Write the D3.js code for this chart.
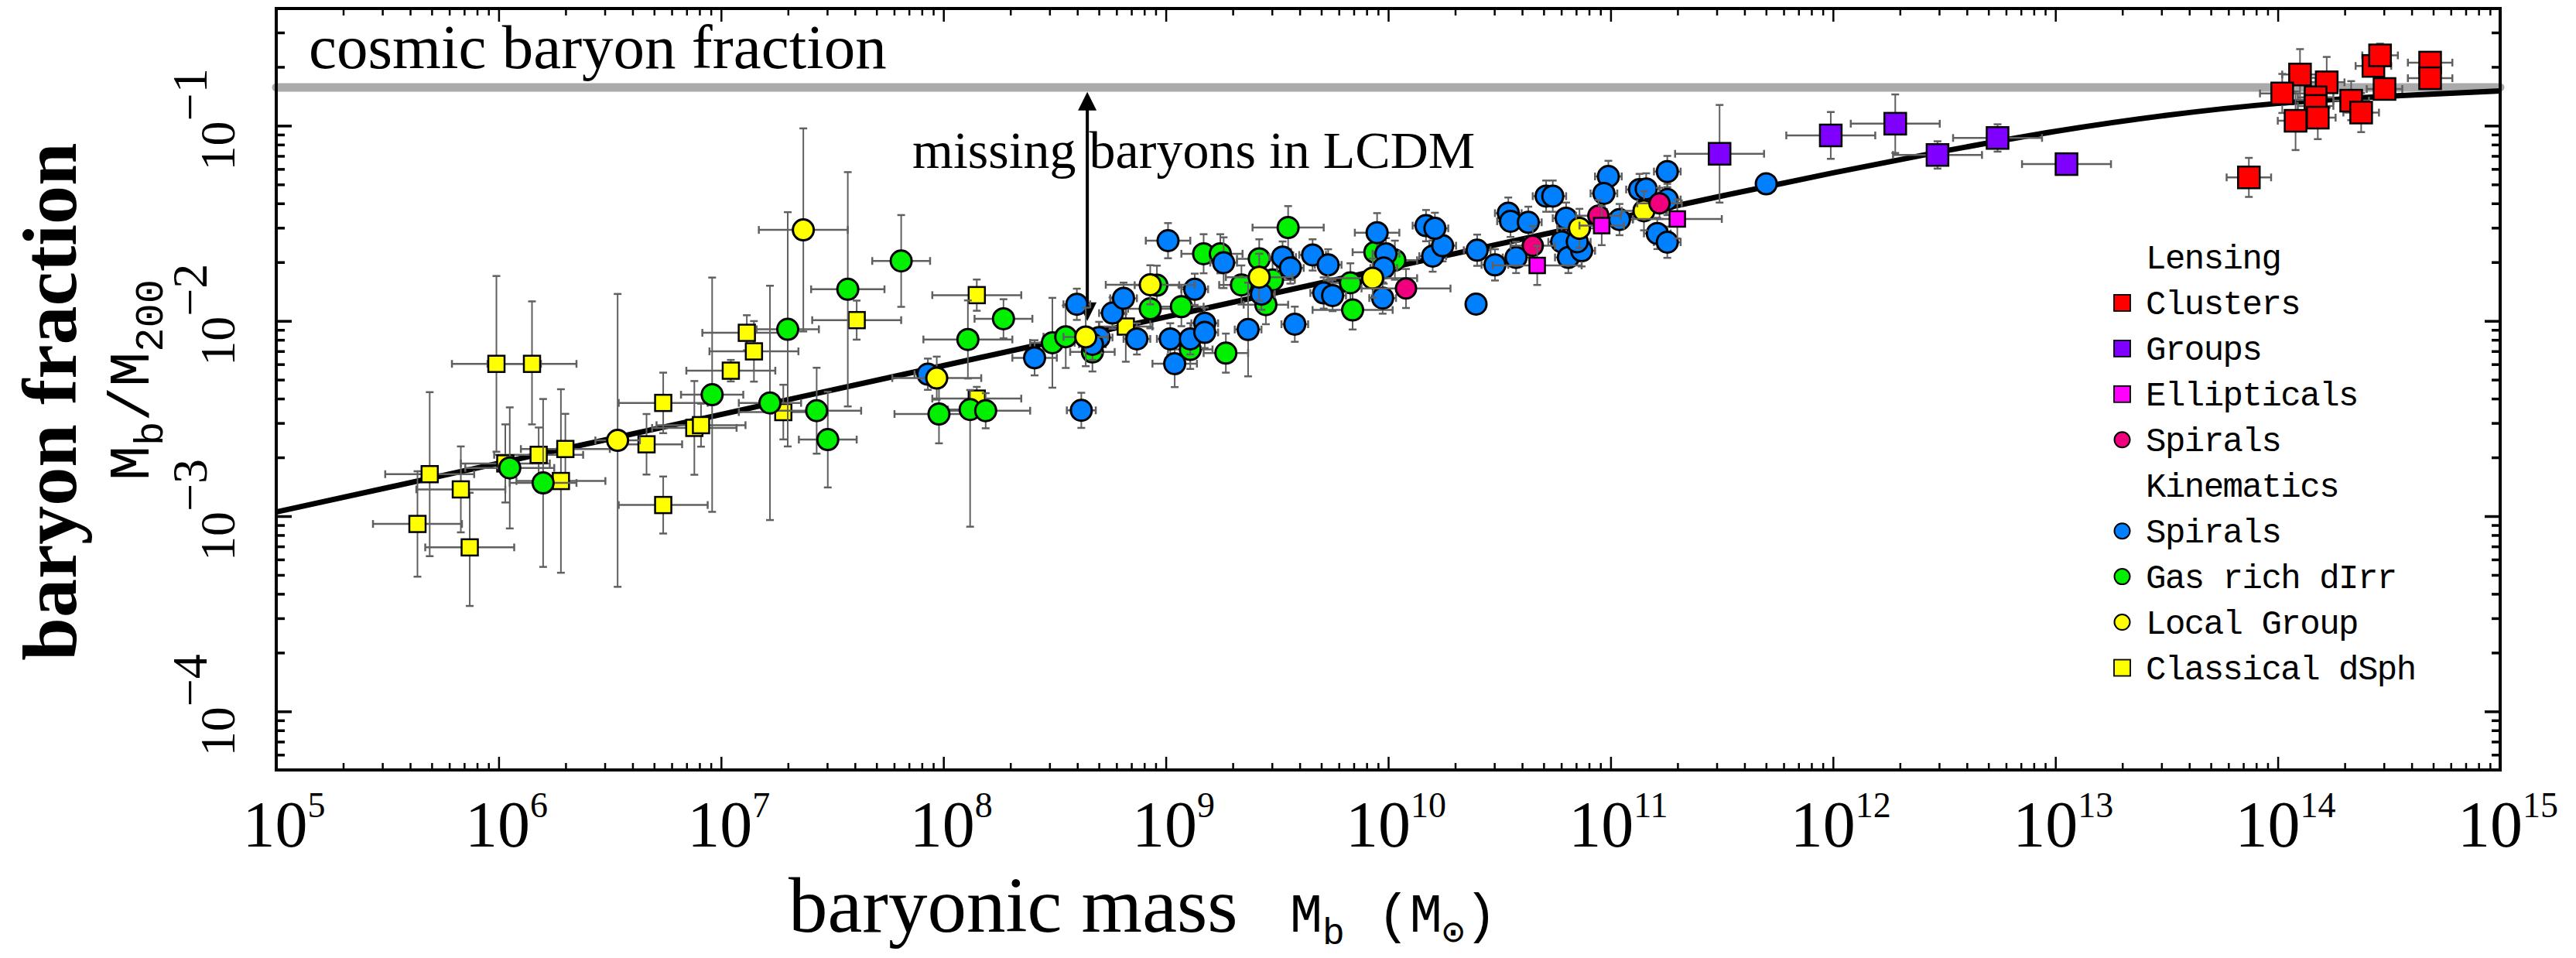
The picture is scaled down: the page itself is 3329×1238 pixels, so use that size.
<!DOCTYPE html>
<html>
<head>
<meta charset="utf-8">
<script src="https://cdn.jsdelivr.net/npm/d3@7"></script>
<style>
body { margin: 0; background: #fff; }
svg { display: block; }
</style>
</head>
<body>
<svg id="chart" width="3329" height="1238"></svg>
<script>
// values
// each row: [log10 Mb, log10 fb, dex error in Mb, dex error in fb below, dex error in fb above]
var clusters = [
	[13.87, -1.265, 0.10, 0.10, 0.10],
	[14.10, -0.738, 0.08, 0.13, 0.13],
	[14.02, -0.835, 0.10, 0.10, 0.10],
	[14.22, -0.778, 0.08, 0.13, 0.13],
	[14.17, -0.855, 0.08, 0.10, 0.10],
	[14.17, -0.899, 0.08, 0.10, 0.10],
	[14.18, -0.959, 0.08, 0.11, 0.11],
	[14.08, -0.975, 0.08, 0.15, 0.15],
	[14.33, -0.872, 0.08, 0.10, 0.10],
	[14.375, -0.933, 0.08, 0.10, 0.10],
	[14.48, -0.812, 0.08, 0.05, 0.05],
	[14.43, -0.694, 0.08, 0.05, 0.05],
	[14.46, -0.640, 0.08, 0.06, 0.06],
	[14.685, -0.677, 0.10, 0.05, 0.05],
	[14.685, -0.757, 0.10, 0.05, 0.05]
];
var groups = [
	[11.49, -1.144, 0.20, 0.25, 0.25],
	[11.99, -1.050, 0.20, 0.12, 0.12],
	[12.28, -0.990, 0.20, 0.15, 0.15],
	[12.47, -1.150, 0.20, 0.07, 0.07],
	[12.74, -1.063, 0.20, 0.07, 0.07],
	[13.05, -1.197, 0.20, 0.03, 0.03]
];
var ellipticals = [
	[10.67, -1.716, 0.20, 0.10, 0.10],
	[10.96, -1.512, 0.10, 0.10, 0.10],
	[11.30, -1.478, 0.20, 0.10, 0.10]
];
var lensSpirals = [
	[10.08, -1.834, 0.20, 0.10, 0.10],
	[10.65, -1.615, 0.10, 0.10, 0.10],
	[10.945, -1.461, 0.10, 0.08, 0.08],
	[11.22, -1.398, 0.10, 0.08, 0.08]
];
var kinSpirals = [
	[7.93, -2.273, 0.06, 0.08, 0.08], [8.41, -2.189, 0.10, 0.09, 0.09],
	[8.62, -2.458, 0.065, 0.09, 0.09], [8.70, -2.085, 0.06, 0.08, 0.08],
	[8.67, -2.120, 0.06, 0.08, 0.08], [8.60, -1.915, 0.06, 0.08, 0.08],
	[8.76, -1.960, 0.06, 0.08, 0.08], [8.81, -1.884, 0.06, 0.08, 0.08],
	[8.87, -2.092, 0.06, 0.08, 0.08], [9.01, -1.589, 0.10, 0.09, 0.09],
	[9.13, -1.838, 0.06, 0.08, 0.08], [9.02, -2.092, 0.06, 0.08, 0.08],
	[9.11, -2.092, 0.06, 0.08, 0.08], [9.04, -2.219, 0.10, 0.12, 0.12],
	[9.175, -2.012, 0.06, 0.08, 0.08], [9.175, -2.059, 0.06, 0.08, 0.08],
	[9.26, -1.702, 0.06, 0.13, 0.13], [9.43, -1.863, 0.06, 0.08, 0.08],
	[9.525, -1.673, 0.06, 0.08, 0.08], [9.56, -1.729, 0.06, 0.08, 0.08],
	[9.66, -1.662, 0.06, 0.08, 0.08], [9.73, -1.713, 0.06, 0.08, 0.08],
	[9.71, -1.857, 0.06, 0.08, 0.08], [9.75, -1.870, 0.06, 0.08, 0.08],
	[9.58, -2.017, 0.06, 0.09, 0.09], [9.37, -2.044, 0.06, 0.24, 0.24],
	[9.95, -1.548, 0.10, 0.10, 0.10], [9.99, -1.656, 0.06, 0.08, 0.08],
	[9.98, -1.729, 0.06, 0.08, 0.08], [9.975, -1.883, 0.06, 0.08, 0.08],
	[10.20, -1.668, 0.06, 0.08, 0.08], [10.245, -1.615, 0.06, 0.08, 0.08],
	[10.17, -1.512, 0.06, 0.08, 0.08], [10.21, -1.526, 0.06, 0.08, 0.08],
	[10.40, -1.638, 0.06, 0.08, 0.08], [10.395, -1.914, 0, 0, 0],
	[10.54, -1.448, 0.06, 0.08, 0.08], [10.55, -1.490, 0.06, 0.08, 0.08],
	[10.63, -1.495, 0.06, 0.08, 0.08], [10.48, -1.713, 0.06, 0.08, 0.08],
	[10.575, -1.675, 0.06, 0.08, 0.08], [10.71, -1.361, 0.06, 0.08, 0.08],
	[10.74, -1.361, 0.06, 0.08, 0.08], [10.80, -1.474, 0.06, 0.08, 0.08],
	[10.78, -1.595, 0.06, 0.08, 0.08], [10.81, -1.675, 0.06, 0.08, 0.08],
	[10.87, -1.641, 0.06, 0.08, 0.08], [10.85, -1.595, 0.06, 0.08, 0.08],
	[10.99, -1.260, 0.06, 0.08, 0.08], [10.97, -1.347, 0.06, 0.08, 0.08],
	[11.04, -1.481, 0.06, 0.08, 0.08], [11.13, -1.327, 0.06, 0.08, 0.08],
	[11.255, -1.235, 0.06, 0.08, 0.08], [11.16, -1.324, 0.06, 0.08, 0.08],
	[11.255, -1.378, 0.06, 0.08, 0.08], [11.21, -1.552, 0.06, 0.08, 0.08],
	[11.255, -1.597, 0.06, 0.08, 0.08], [11.70, -1.298, 0, 0, 0]
];
var gasRich = [
	[6.05, -2.753, 0.20, 0.31, 0.31], [6.20, -2.830, 0.15, 0.43, 0.43],
	[6.96, -2.378, 0.14, 0.60, 0.60], [7.22, -2.420, 0.14, 0.60, 0.60],
	[7.30, -2.043, 0.14, 0.60, 0.60], [7.57, -1.838, 0.165, 0.60, 0.60],
	[7.81, -1.693, 0.13, 0.235, 0.235], [7.43, -2.460, 0.20, 0.22, 0.22],
	[7.48, -2.608, 0.13, 0.245, 0.245], [8.27, -1.989, 0.13, 0.10, 0.10],
	[8.11, -2.095, 0.20, 0.20, 0.20], [7.98, -2.477, 0.20, 0.15, 0.15],
	[8.12, -2.454, 0.10, 0.60, 0.10], [8.19, -2.460, 0.20, 0.09, 0.09],
	[8.49, -2.112, 0.10, 0.23, 0.23], [8.55, -2.081, 0.10, 0.16, 0.16],
	[8.67, -2.159, 0.10, 0.10, 0.10], [8.96, -1.817, 0.10, 0.10, 0.10],
	[8.93, -1.938, 0.10, 0.10, 0.10], [9.17, -1.656, 0.10, 0.10, 0.10],
	[9.07, -1.927, 0.10, 0.10, 0.10], [9.11, -2.146, 0.10, 0.10, 0.10],
	[9.55, -1.522, 0.16, 0.11, 0.11], [9.245, -1.656, 0.10, 0.10, 0.10],
	[9.42, -1.682, 0.10, 0.10, 0.10], [9.34, -1.816, 0.10, 0.10, 0.10],
	[9.48, -1.790, 0.10, 0.10, 0.10], [9.45, -1.917, 0.10, 0.10, 0.10],
	[9.27, -2.165, 0.10, 0.10, 0.10], [9.83, -1.805, 0.10, 0.10, 0.10],
	[9.84, -1.944, 0.18, 0.10, 0.10], [9.94, -1.648, 0.10, 0.10, 0.10],
	[10.03, -1.689, 0.10, 0.10, 0.10]
];
var localGroup = [
	[6.535, -2.612, 0.10, 0.75, 0.75], [7.37, -1.534, 0.20, 0.52, 0.52],
	[7.97, -2.293, 0.20, 0.11, 0.11], [8.64, -2.082, 0.10, 0.15, 0.15],
	[8.93, -1.815, 0.20, 0.10, 0.10], [9.42, -1.776, 0.15, 0.12, 0.12],
	[9.93, -1.781, 0.20, 0.10, 0.10], [10.86, -1.526, 0.10, 0.10, 0.10],
	[11.15, -1.436, 0.10, 0.10, 0.10]
];
var dSph = [
	[5.99, -2.220, 0.20, 0.45, 0.45], [6.15, -2.220, 0.20, 0.31, 0.32],
	[5.69, -2.785, 0.20, 0.42, 0.42], [5.83, -2.863, 0.20, 0.22, 0.22],
	[5.635, -3.040, 0.20, 0.27, 0.27], [5.87, -3.160, 0.20, 0.30, 0.28],
	[6.03, -2.730, 0.20, 0.20, 0.20], [6.18, -2.686, 0.20, 0.14, 0.14],
	[6.30, -2.656, 0.20, 0.18, 0.18], [6.28, -2.820, 0.20, 0.47, 0.47],
	[6.665, -2.632, 0.16, 0.155, 0.155], [6.74, -2.420, 0.20, 0.155, 0.155],
	[6.74, -2.943, 0.20, 0.146, 0.146], [6.88, -2.548, 0.19, 0.24, 0.24],
	[6.91, -2.534, 0.20, 0.11, 0.11], [7.116, -2.061, 0.20, 0.09, 0.09],
	[7.148, -2.156, 0.20, 0.155, 0.155], [7.044, -2.255, 0.20, 0.055, 0.055],
	[7.61, -1.996, 0.20, 0.10, 0.10], [7.28, -2.467, 0.20, 0.14, 0.14],
	[8.15, -1.868, 0.20, 0.08, 0.08], [8.15, -2.398, 0.20, 0.06, 0.06],
	[8.82, -2.029, 0.12, 0.18, 0.18]
];

// black model curve, read at these masses
var modelLogM = [5, 6, 7, 8, 9, 10, 11, 11.5, 12, 12.5, 13, 13.5, 14, 14.5, 15];
var modelLogF = [-2.979, -2.729, -2.479, -2.229, -1.98, -1.73, -1.482, -1.36, -1.242, -1.13, -1.029, -0.947, -0.886, -0.849, -0.822];

var cosmicFb = 0.157;
var arrowLogM = 8.647;
var arrowLogF = [-0.803, -2.0];

var xTickExp = [5, 6, 7, 8, 9, 10, 11, 12, 13, 14, 15];
var yTickExp = [-1, -2, -3, -4];

var width = 3329, height = 1238;
var L = 357, R = 3231, T = 11, B = 995;

var svg = d3.select('#chart');

var x = d3.scaleLog().domain([1e5, 1e15]).range([L, R]);
var y = d3.scaleLog().domain([Math.pow(10, -4.3), Math.pow(10, -0.4)]).range([B, T]);

function p10(v) { return Math.pow(10, v); }

var serif = '"Liberation Serif", "Times New Roman", serif';
var mono = '"Liberation Mono", "DejaVu Sans Mono", monospace';

// ticks
var xMajor = xTickExp.map(p10);
var xMinor = [];
for (var e = 5; e < 15; e++) for (var k = 2; k <= 9; k++) xMinor.push(k * p10(e));
var yMajor = yTickExp.map(p10);
var yMinor = [];
for (var e = -5; e <= -1; e++) for (var k = 2; k <= 9; k++) {
	var v = k * p10(e);
	if (v > y.domain()[0] && v < y.domain()[1]) yMinor.push(v);
}

function axisGroup(axis, tx, ty, w) {
	var g = svg.append('g').attr('transform', 'translate(' + tx + ',' + ty + ')').call(axis);
	g.select('.domain').remove();
	g.selectAll('.tick line').attr('stroke', '#000').attr('stroke-width', w);
	g.selectAll('.tick text').remove();
	return g;
}
axisGroup(d3.axisBottom(x).tickValues(xMajor).tickSize(-17), 0, B, 2.5);
axisGroup(d3.axisBottom(x).tickValues(xMinor).tickSize(-9), 0, B, 2.5);
axisGroup(d3.axisTop(x).tickValues(xMajor).tickSize(-17), 0, T, 2.5);
axisGroup(d3.axisTop(x).tickValues(xMinor).tickSize(-9), 0, T, 2.5);
axisGroup(d3.axisLeft(y).tickValues(yMajor).tickSize(-20), L, 0, 3.5);
axisGroup(d3.axisLeft(y).tickValues(yMinor).tickSize(-11), L, 0, 3.5);
axisGroup(d3.axisRight(y).tickValues(yMajor).tickSize(-20), R, 0, 3.5);
axisGroup(d3.axisRight(y).tickValues(yMinor).tickSize(-11), R, 0, 3.5);

// cosmic baryon fraction
svg.append('line')
	.attr('x1', L).attr('x2', R)
	.attr('y1', y(cosmicFb)).attr('y2', y(cosmicFb))
	.attr('stroke', '#aaaaaa')
	.attr('stroke-width', 11)
	.attr('stroke-linecap', 'round');

svg.append('text')
	.attr('x', 399).attr('y', 88)
	.style('font-family', serif).style('font-size', '81px')
	.text('cosmic baryon fraction');

// model curve
var line = d3.line()
	.x(function(d) { return x(p10(d[0])); })
	.y(function(d) { return y(p10(d[1])); })
	.curve(d3.curveMonotoneX);
svg.append('path')
	.datum(d3.zip(modelLogM, modelLogF))
	.attr('d', line)
	.attr('fill', 'none')
	.attr('stroke', '#000')
	.attr('stroke-width', 7);

// arrow
var ax = x(p10(arrowLogM)), ay1 = y(p10(arrowLogF[0])) + 6, ay2 = y(p10(arrowLogF[1]));
svg.append('line')
	.attr('x1', ax).attr('x2', ax).attr('y1', ay1 + 20).attr('y2', ay2 - 20)
	.attr('stroke', '#000').attr('stroke-width', 4);
svg.append('path')
	.attr('d', 'M' + ax + ',' + ay1 + 'l-12,24h24z')
	.attr('fill', '#000');
svg.append('path')
	.attr('d', 'M' + ax + ',' + ay2 + 'l-12,-24h24z')
	.attr('fill', '#000');

svg.append('text')
	.attr('x', 1179).attr('y', 217)
	.style('font-family', serif).style('font-size', '68px')
	.text('missing baryons in LCDM');

// data
var series = [
	{ data: dSph, shape: 'square', fill: '#ffff00', size: 21 },
	{ data: gasRich, shape: 'circle', fill: '#00f000', size: 30 },
	{ data: kinSpirals, shape: 'circle', fill: '#0080ff', size: 30 },
	{ data: localGroup, shape: 'circle', fill: '#ffff00', size: 30 },
	{ data: lensSpirals, shape: 'circle', fill: '#f0007c', size: 29 },
	{ data: ellipticals, shape: 'square', fill: '#ff00ff', size: 20 },
	{ data: groups, shape: 'square', fill: '#7f00ff', size: 28 },
	{ data: clusters, shape: 'square', fill: '#ff0000', size: 28 }
];

var barColor = '#606060', cap = 5;

series.forEach(function(s) {
	var g = svg.append('g');
	var bars = g.append('g');
	s.data.forEach(function(d) {
		var cx = x(p10(d[0])), cy = y(p10(d[1]));
		if (d[2] > 0) {
			var x1 = x(p10(d[0] - d[2])), x2 = x(p10(d[0] + d[2]));
			bars.append('line').attr('x1', x1).attr('x2', x2).attr('y1', cy).attr('y2', cy)
				.attr('stroke', barColor).attr('stroke-width', 2.5);
			[x1, x2].forEach(function(xx) {
				bars.append('line').attr('x1', xx).attr('x2', xx).attr('y1', cy - cap).attr('y2', cy + cap)
					.attr('stroke', barColor).attr('stroke-width', 2.5);
			});
		}
		if (d[3] > 0 || d[4] > 0) {
			var y1 = y(p10(d[1] - d[3])), y2 = y(p10(d[1] + d[4]));
			bars.append('line').attr('x1', cx).attr('x2', cx).attr('y1', y1).attr('y2', y2)
				.attr('stroke', barColor).attr('stroke-width', 2);
			[y1, y2].forEach(function(yy) {
				bars.append('line').attr('x1', cx - cap).attr('x2', cx + cap).attr('y1', yy).attr('y2', yy)
					.attr('stroke', barColor).attr('stroke-width', 2.5);
			});
		}
	});
	var marks = g.append('g');
	if (s.shape === 'circle') {
		marks.selectAll('circle').data(s.data).enter().append('circle')
			.attr('cx', function(d) { return x(p10(d[0])); })
			.attr('cy', function(d) { return y(p10(d[1])); })
			.attr('r', s.size / 2 - 1.5)
			.attr('fill', s.fill)
			.attr('stroke', '#000')
			.attr('stroke-width', 3);
	} else {
		marks.selectAll('rect').data(s.data).enter().append('rect')
			.attr('x', function(d) { return x(p10(d[0])) - s.size / 2; })
			.attr('y', function(d) { return y(p10(d[1])) - s.size / 2; })
			.attr('width', s.size).attr('height', s.size)
			.attr('fill', s.fill)
			.attr('stroke', '#000')
			.attr('stroke-width', 2.5);
	}
});

// frame
svg.append('rect')
	.attr('x', L).attr('y', T).attr('width', R - L).attr('height', B - T)
	.attr('fill', 'none').attr('stroke', '#000').attr('stroke-width', 4);

// x tick labels
xTickExp.forEach(function(e) {
	var t = svg.append('text')
		.attr('x', x(p10(e)) + 10).attr('y', 1094)
		.attr('text-anchor', 'middle')
		.style('font-family', serif).style('font-size', '84px');
	t.append('tspan').text('10');
	t.append('tspan').attr('dy', -38).style('font-size', '46px').text(e);
});

// y tick labels
yTickExp.forEach(function(e) {
	var t = svg.append('text')
		.attr('transform', 'translate(303,' + (y(p10(e)) - 8) + ') rotate(-90)')
		.attr('text-anchor', 'middle')
		.style('font-family', serif).style('font-size', '64px');
	t.append('tspan').text('10');
	t.append('tspan').attr('dy', -36).text('\u2212' + Math.abs(e));
});

// axis titles
svg.append('text').attr('x', 1019).attr('y', 1204)
	.style('font-family', serif).style('font-size', '101px')
	.text('baryonic mass');
var xt = svg.append('text').attr('x', 1667).attr('y', 1204)
	.style('font-family', mono).style('font-size', '70px');
xt.append('tspan').text('M');
xt.append('tspan').style('font-size', '48px').attr('dy', 16).text('b');
xt.append('tspan').attr('dy', -16).text(' (M');
xt.append('tspan').style('font-size', '48px').attr('dy', 16).text('\u2299');
xt.append('tspan').attr('dy', -16).text(')');

svg.append('text')
	.attr('transform', 'translate(98,519) rotate(-90)')
	.attr('text-anchor', 'middle')
	.style('font-family', serif).style('font-weight', 'bold').style('font-size', '100px')
	.text('baryon fraction');

var yt = svg.append('text')
	.attr('transform', 'translate(192,491) rotate(-90)')
	.attr('text-anchor', 'middle')
	.style('font-family', mono).style('font-size', '75px');
yt.append('tspan').text('M');
yt.append('tspan').attr('dy', 18).style('font-size', '52px').text('b');
yt.append('tspan').attr('dy', -18).text('/M');
yt.append('tspan').attr('dy', 18).style('font-size', '52px').text('200');

// legend
var legendRows = [
	{ label: 'Lensing' },
	{ label: 'Clusters', shape: 'square', fill: '#ff0000' },
	{ label: 'Groups', shape: 'square', fill: '#7f00ff' },
	{ label: 'Ellipticals', shape: 'square', fill: '#ff00ff' },
	{ label: 'Spirals', shape: 'circle', fill: '#f0007c' },
	{ label: 'Kinematics' },
	{ label: 'Spirals', shape: 'circle', fill: '#0080ff' },
	{ label: 'Gas rich dIrr', shape: 'circle', fill: '#00f000' },
	{ label: 'Local Group', shape: 'circle', fill: '#ffff00' },
	{ label: 'Classical dSph', shape: 'square', fill: '#ffff00' }
];
var ly = d3.scaleLinear().domain([0, 9]).range([347, 877.5]);
var legend = svg.append('g');
legendRows.forEach(function(r, i) {
	var by = ly(i);
	legend.append('text')
		.attr('x', 2773).attr('y', by)
		.style('font-family', mono).style('font-size', '44px').style('letter-spacing', '-1.5px')
		.text(r.label);
	if (r.shape === 'square') {
		legend.append('rect')
			.attr('x', 2732).attr('y', by - 25).attr('width', 21).attr('height', 21)
			.attr('fill', r.fill).attr('stroke', '#000').attr('stroke-width', 1.8);
	} else if (r.shape === 'circle') {
		legend.append('circle')
			.attr('cx', 2742.5).attr('cy', by - 14.5).attr('r', 10)
			.attr('fill', r.fill).attr('stroke', '#000').attr('stroke-width', 2);
	}
});
</script>
</body>
</html>
